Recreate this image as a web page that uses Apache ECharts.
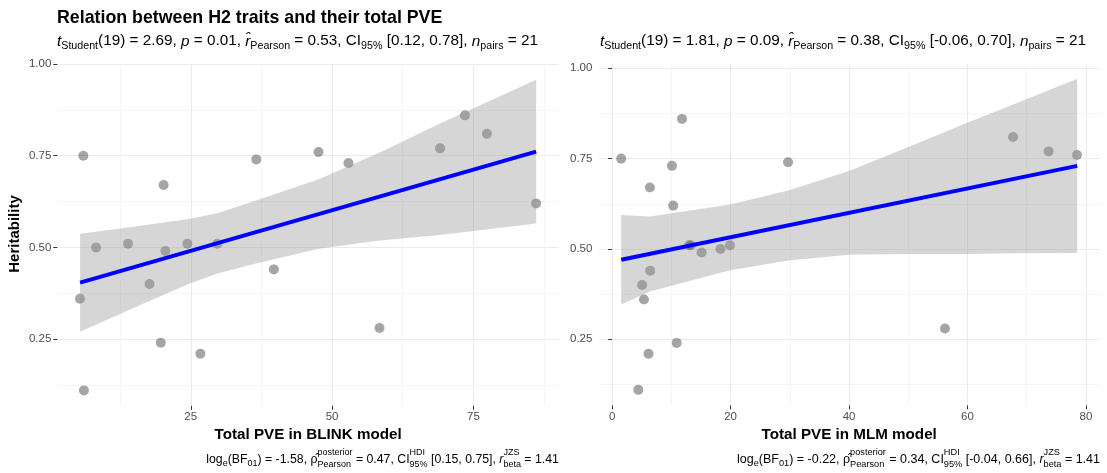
<!DOCTYPE html>
<html>
<head>
<meta charset="utf-8">
<script src="https://cdn.jsdelivr.net/npm/echarts@6/dist/echarts.min.js"></script>
<style>
  html, body { margin: 0; padding: 0; background: #ffffff; }
  #chart { width: 1107px; height: 473px; }
</style>
</head>
<body>
<div id="chart"></div>
<script>
// ---- BLINK model panel ----
const blinkPVE = [6.0, 5.4, 6.1, 8.25, 13.9, 17.7, 19.7, 20.2, 20.5, 24.4, 26.7,
                  29.7, 36.6, 39.7, 47.6, 52.9, 58.4, 69.1, 73.5, 77.4, 86.1];
const blinkH2  = [0.75, 0.36, 0.11, 0.50, 0.51, 0.40, 0.24, 0.67, 0.49, 0.51, 0.21,
                  0.51, 0.74, 0.44, 0.76, 0.73, 0.28, 0.77, 0.86, 0.81, 0.62];
const blinkFitX = [5.42, 86.1];
const blinkFitY = [0.404, 0.761];
const blinkBandX    = [5.42, 13.86, 24.35, 29.7, 36.56, 47.64, 58.43, 69.1, 86.1];
const blinkBandLow  = [0.270, 0.328, 0.399, 0.429, 0.456, 0.496, 0.519, 0.534, 0.565];
const blinkBandHigh = [0.537, 0.554, 0.577, 0.593, 0.628, 0.686, 0.759, 0.838, 0.957];

// ---- MLM model panel ----
const mlmPVE = [1.53, 11.8, 10.1, 6.37, 10.3, 29.7, 13.0, 13.3, 15.1, 18.3, 19.9,
                6.43, 5.07, 5.37, 10.9, 6.14, 4.42, 56.2, 67.7, 73.7, 78.5];
const mlmH2  = [0.75, 0.86, 0.73, 0.67, 0.62, 0.74, 0.51, 0.51, 0.49, 0.50, 0.51,
                0.44, 0.40, 0.36, 0.24, 0.21, 0.11, 0.28, 0.81, 0.77, 0.76];
const mlmFitX = [1.53, 78.53];
const mlmFitY = [0.470, 0.730];
const mlmBandX    = [1.53, 6.37, 19.94, 29.73, 40.0, 50.03, 60.06, 67.73, 78.53];
const mlmBandLow  = [0.346, 0.382, 0.441, 0.468, 0.484, 0.486, 0.486, 0.488, 0.489];
const mlmBandHigh = [0.594, 0.590, 0.623, 0.662, 0.716, 0.782, 0.850, 0.900, 0.971];

// ---- axis ticks ----
const blinkXTicks = [25, 50, 75];
const blinkXMinor = [12.5, 37.5, 62.5, 87.5];
const mlmXTicks = [0, 20, 40, 60, 80];
const mlmXMinor = [10, 30, 50, 70];
const yTicks = [0.25, 0.50, 0.75, 1.00];
const yMinor = [0.125, 0.375, 0.625, 0.875];

// ---- text ----
const titleText = 'Relation between H2 traits and their total PVE';
const yTitle = 'Heritability';
const blinkXTitle = 'Total PVE in BLINK model';
const mlmXTitle = 'Total PVE in MLM model';
const blinkStats = { t: '2.69', p: '0.01', r: '0.53', ci: '[0.12, 0.78]', n: '21' };
const mlmStats   = { t: '1.81', p: '0.09', r: '0.38', ci: '[-0.06, 0.70]', n: '21' };
const blinkBayes = { bf: '-1.58', rho: '0.47', ci: '[0.15, 0.75]', r: '1.41' };
const mlmBayes   = { bf: '-0.22', rho: '0.34', ci: '[-0.04, 0.66]', r: '1.41' };

const FAMILY = '"Liberation Sans", Arial, Helvetica, sans-serif';
const measureCtx = document.createElement('canvas').getContext('2d');
function textW(str, size, weight, style) {
  measureCtx.font = (style || 'normal') + ' ' + (weight || 'normal') + ' ' + size + 'px ' + FAMILY;
  return measureCtx.measureText(str).width;
}

// Lays out a line of mixed text (subscripts, stacked super/subscripts) on a baseline.
function richLine(pieces, x0, baseline, anchor, size, small) {
  const items = pieces.map(p => {
    if (p.stack) {
      const w = Math.max(textW(p.stack[0], small), textW(p.stack[1], small));
      return Object.assign({ w: w }, p);
    }
    const s = p.sub ? small : size;
    return Object.assign({ w: textW(p.t, s, 'normal', p.it ? 'italic' : 'normal') }, p);
  });
  const total = items.reduce((a, b) => a + b.w, 0);
  let x = anchor === 'right' ? x0 - total : x0;
  const out = [];
  const mk = (str, s, xx, base, italic) => ({
    type: 'text', silent: true, x: xx, y: base - 0.31 * s,
    style: { text: str, fontSize: s, fontFamily: FAMILY, fontStyle: italic ? 'italic' : 'normal',
             fill: '#000000', align: 'left', verticalAlign: 'middle' }
  });
  items.forEach(p => {
    if (p.stack) {
      out.push(mk(p.stack[0], small, x, baseline - size * 0.62, false));
      out.push(mk(p.stack[1], small, x, baseline + small * 0.45, false));
    } else if (p.sub) {
      out.push(mk(p.t, small, x, baseline + small * 0.35, p.it));
    } else {
      out.push(mk(p.t, size, x, baseline, p.it));
    }
    x += p.w;
  });
  return out;
}

function statsPieces(s) {
  return [
    { t: 't', it: true }, { t: 'Student', sub: true }, { t: '(19) = ' + s.t + ', ' },
    { t: 'p', it: true }, { t: ' = ' + s.p + ', ' },
    { t: 'r\u0302', it: true }, { t: 'Pearson', sub: true }, { t: ' = ' + s.r + ', CI' },
    { t: '95%', sub: true }, { t: ' ' + s.ci + ', ' },
    { t: 'n', it: true }, { t: 'pairs', sub: true }, { t: ' = ' + s.n }
  ];
}
function bayesPieces(b) {
  return [
    { t: 'log' }, { t: 'e', sub: true }, { t: '(BF' }, { t: '01', sub: true }, { t: ') = ' + b.bf + ', ' },
    { t: '\u03C1\u0302' }, { stack: ['posterior', 'Pearson'] }, { t: ' = ' + b.rho + ', CI' },
    { stack: ['HDI', '95%'] }, { t: ' ' + b.ci + ', ' },
    { t: 'r', it: true }, { stack: ['JZS', 'beta'] }, { t: ' = ' + b.r }
  ];
}

const G = [
  { left: 57.3, top: 63.3, width: 501.6, height: 342.5 },
  { left: 598.4, top: 63.6, width: 501.6, height: 341.8 }
];
const xRange = [[1.39, 90.13], [-2.32, 82.38]];
const yRange = [[0.068, 1.002], [0.067, 1.013]];

const labelStyle = { color: '#4D4D4D', fontSize: 11.5, fontFamily: FAMILY };
const majorLine = { color: '#EBEBEB', width: 1 };
const minorLine = { color: '#F2F2F2', width: 0.8 };

const xAxes = [], yAxes = [];
[[blinkXTicks, blinkXMinor], [mlmXTicks, mlmXMinor]].forEach((tk, i) => {
  xAxes.push({
    type: 'value', gridIndex: i, min: xRange[i][0], max: xRange[i][1],
    axisLine: { show: false },
    axisTick: { show: true, length: 4, customValues: tk[0], lineStyle: { color: '#333333', width: 1 } },
    axisLabel: Object.assign({ margin: 5, customValues: tk[0] }, labelStyle),
    splitLine: { show: true, lineStyle: majorLine }
  });
  xAxes.push({
    type: 'value', gridIndex: i, min: xRange[i][0], max: xRange[i][1],
    axisLine: { show: false },
    axisTick: { show: false, customValues: tk[1] },
    axisLabel: { show: false, customValues: tk[1] },
    splitLine: { show: true, lineStyle: minorLine }
  });
  yAxes.push({
    type: 'value', gridIndex: i, min: yRange[i][0], max: yRange[i][1],
    axisLine: { show: false },
    axisTick: { show: true, length: 4, customValues: yTicks, lineStyle: { color: '#333333', width: 1 } },
    axisLabel: Object.assign({ margin: 6, customValues: yTicks, formatter: v => v.toFixed(2) }, labelStyle),
    splitLine: { show: true, lineStyle: majorLine }
  });
  yAxes.push({
    type: 'value', gridIndex: i, min: yRange[i][0], max: yRange[i][1],
    axisLine: { show: false },
    axisTick: { show: false, customValues: yMinor },
    axisLabel: { show: false, customValues: yMinor },
    splitLine: { show: true, lineStyle: minorLine }
  });
});

function panelSeries(i, px, py, fx, fy, bx, blo, bhi) {
  const xi = i * 2, yi = i * 2;
  return [
    {
      type: 'scatter', xAxisIndex: xi, yAxisIndex: yi, z: 2, silent: true,
      symbolSize: 10, itemStyle: { color: 'rgba(0,0,0,0.44)' },
      data: px.map((v, k) => [v, py[k]])
    },
    {
      // confidence band: upper edge left to right, lower edge back
      type: 'custom', xAxisIndex: xi, yAxisIndex: yi, z: 3, silent: true,
      data: bx.map((v, k) => [v, blo[k], bhi[k]]),
      renderItem: (params, api) => {
        if (params.dataIndex !== 0) return null;
        const pts = [];
        bx.forEach((v, k) => pts.push(api.coord([v, bhi[k]])));
        for (let k = bx.length - 1; k >= 0; k--) pts.push(api.coord([bx[k], blo[k]]));
        return { type: 'polygon', shape: { points: pts },
                 style: { fill: 'rgba(153,153,153,0.4)', stroke: null } };
      }
    },
    {
      type: 'line', xAxisIndex: xi, yAxisIndex: yi, z: 4, silent: true,
      symbol: 'none', lineStyle: { color: '#0000FF', width: 4 },
      data: fx.map((v, k) => [v, fy[k]])
    }
  ];
}

const graphics = [
  { type: 'text', silent: true, x: 57, y: 24 - 0.31 * 17.8,
    style: { text: titleText, fontSize: 17.8, fontWeight: 'bold', fontFamily: FAMILY, fill: '#000',
             align: 'left', verticalAlign: 'middle' } },
  { type: 'text', silent: true, x: 15, y: 234, rotation: Math.PI / 2,
    style: { text: yTitle, fontSize: 15, fontWeight: 'bold', fontFamily: FAMILY, fill: '#000',
             align: 'center', verticalAlign: 'middle' } },
  { type: 'text', silent: true, x: G[0].left + G[0].width / 2, y: 435,
    style: { text: blinkXTitle, fontSize: 15.2, fontWeight: 'bold', fontFamily: FAMILY, fill: '#000',
             align: 'center', verticalAlign: 'middle' } },
  { type: 'text', silent: true, x: G[1].left + G[1].width / 2, y: 435,
    style: { text: mlmXTitle, fontSize: 15.2, fontWeight: 'bold', fontFamily: FAMILY, fill: '#000',
             align: 'center', verticalAlign: 'middle' } }
].concat(
  richLine(statsPieces(blinkStats), 57, 46, 'left', 15.3, 10.7),
  richLine(statsPieces(mlmStats), 600, 46, 'left', 15.3, 10.7),
  richLine(bayesPieces(blinkBayes), G[0].left + G[0].width, 463, 'right', 12.3, 9),
  richLine(bayesPieces(mlmBayes), G[1].left + G[1].width, 463, 'right', 12.5, 9.2)
);

const chart = echarts.init(document.getElementById('chart'), null, { renderer: 'canvas' });
chart.setOption({
  animation: false,
  backgroundColor: '#ffffff',
  grid: G,
  xAxis: xAxes,
  yAxis: yAxes,
  series: panelSeries(0, blinkPVE, blinkH2, blinkFitX, blinkFitY, blinkBandX, blinkBandLow, blinkBandHigh)
    .concat(panelSeries(1, mlmPVE, mlmH2, mlmFitX, mlmFitY, mlmBandX, mlmBandLow, mlmBandHigh)),
  graphic: graphics
});
</script>
</body>
</html>
